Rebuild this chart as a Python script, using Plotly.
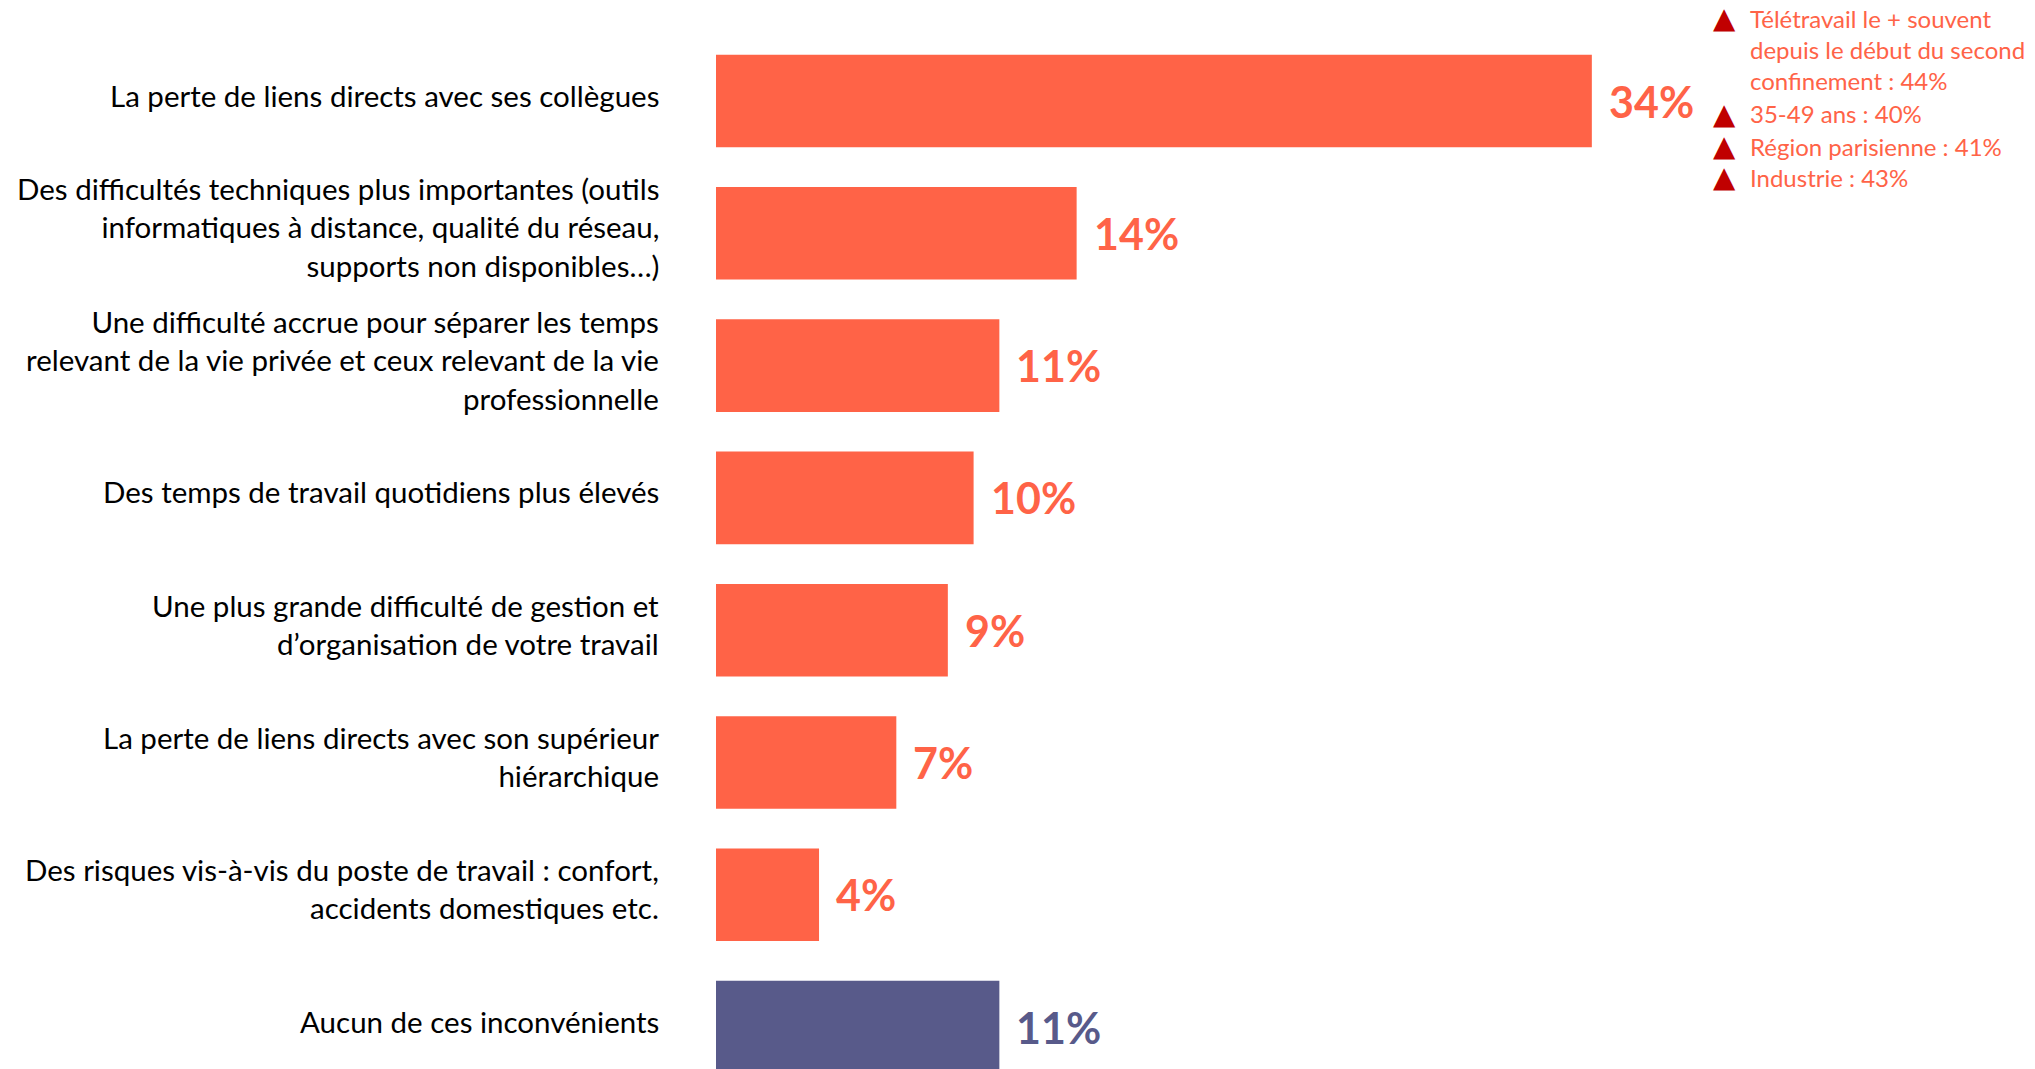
import plotly.graph_objects as go

categories = [
    "La perte de liens directs avec ses collègues",
    "Des difficultés techniques plus importantes (outils<br>informatiques à distance, qualité du réseau,<br>supports non disponibles…)",
    "Une difficulté accrue pour séparer les temps<br>relevant de la vie privée et ceux relevant de la vie<br>professionnelle",
    "Des temps de travail quotidiens plus élevés",
    "Une plus grande difficulté de gestion et<br>d’organisation de votre travail",
    "La perte de liens directs avec son supérieur<br>hiérarchique",
    "Des risques vis-à-vis du poste de travail : confort,<br>accidents domestiques etc.",
    "Aucun de ces inconvénients",
]
values = [34, 14, 11, 10, 9, 7, 4, 11]
value_labels = ["34%", "14%", "11%", "10%", "9%", "7%", "4%", "11%"]
bar_colors = ["#FF6347"] * 7 + ["#585A8A"]

side_notes = [
    "Télétravail le + souvent<br>depuis le début du second<br>confinement : 44%",
    "35-49 ans : 40%",
    "Région parisienne : 41%",
    "Industrie : 43%",
]

W, H = 2035, 1069
OFF = 8            # page offset of the figure inside the window
L = 716 - OFF      # left margin so that bars start at x=716 on screen
PW = W - L         # plot width
PX_PER_PCT = 25.76
FONT = "Lato"


def px_x(px):
    return (px - OFF - L) / PW


def px_y(py):
    return 1 - (py - OFF) / H


fig = go.Figure()
fig.add_trace(go.Bar(
    x=values, y=categories, orientation="h",
    marker=dict(color=bar_colors, line=dict(width=0)),
    width=0.7, hoverinfo="skip",
))

# category labels
for cat in categories:
    fig.add_annotation(
        x=0, y=cat, xref="x", yref="y", text=cat, showarrow=False,
        xanchor="right", yanchor="middle", align="right", xshift=-55, yshift=6,
        font=dict(family=FONT, size=29.5, color="#000000"),
    )

# value labels
for cat, v, lab, col in zip(categories, values, value_labels, bar_colors):
    fig.add_annotation(
        x=v, y=cat, xref="x", yref="y", text="<b>" + lab + "</b>", showarrow=False,
        xanchor="left", yanchor="middle", xshift=15, yshift=0,
        font=dict(family=FONT, size=43, color=col),
    )

# side notes (bullets)
note_centers_px = [49, 114, 146, 177]
first_line_px = [18, 114, 146, 177]
for txt, cy, fy in zip(side_notes, note_centers_px, first_line_px):
    fig.add_annotation(
        x=px_x(1748), y=px_y(cy), xref="paper", yref="paper", text=txt,
        showarrow=False, xanchor="left", yanchor="middle", align="left",
        font=dict(family=FONT, size=24, color="#FF6347"),
    )
    fig.add_annotation(
        x=px_x(1724), y=px_y(fy), xref="paper", yref="paper", text="▲",
        showarrow=False, xanchor="center", yanchor="middle",
        font=dict(family="DejaVu Sans", size=29, color="#C00000"),
    )

# bar 1 centre on screen at y=101, step 132.3 px per category
top_idx = -(101 - OFF) / 132.3
bot_idx = (H - 101 + OFF) / 132.3

fig.update_layout(
    width=W, height=H,
    margin=dict(l=L, r=0, t=0, b=0),
    paper_bgcolor="white", plot_bgcolor="white",
    showlegend=False,
    xaxis=dict(range=[0, PW / PX_PER_PCT], visible=False, fixedrange=True),
    yaxis=dict(categoryorder="array", categoryarray=categories,
               range=[bot_idx, top_idx], visible=False, fixedrange=True),
)

fig.write_html("out.html", config={"displayModeBar": False})
